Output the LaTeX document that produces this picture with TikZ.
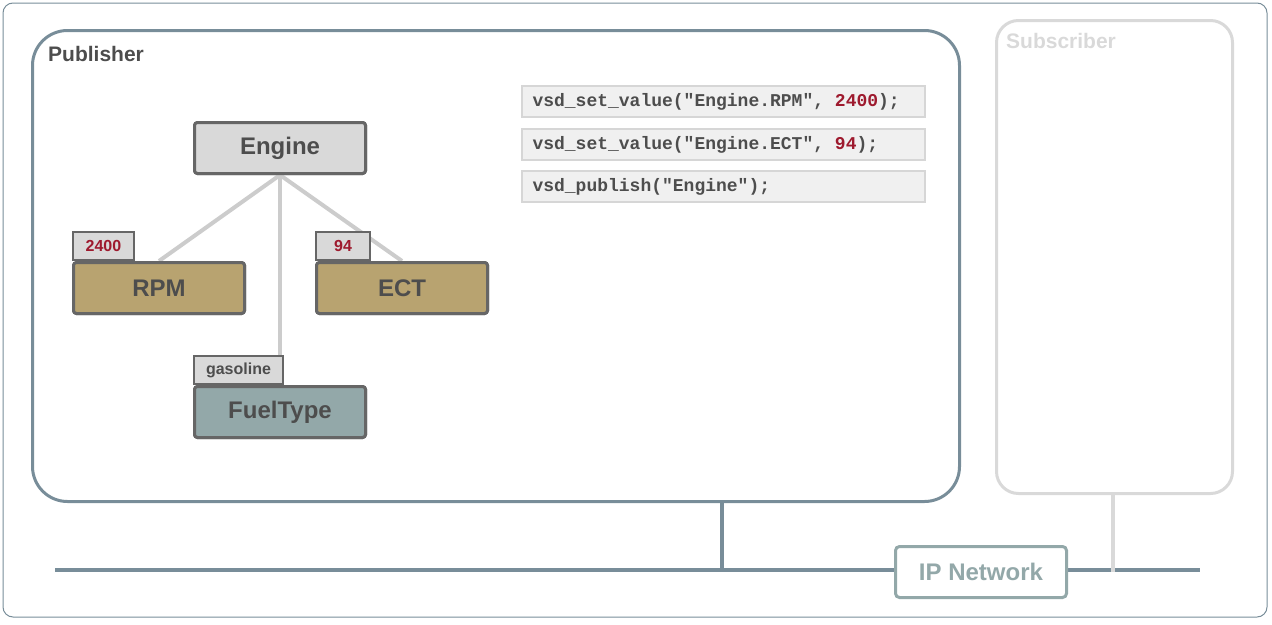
\documentclass[tikz,border=0pt]{standalone}
\usepackage{fontspec}
\setmainfont{Liberation Sans}
\setmonofont{Liberation Mono}
\definecolor{slate}{HTML}{788D99}
\definecolor{txt}{HTML}{4D4D4D}
\definecolor{light}{HTML}{D9D9D9}
\definecolor{edge}{HTML}{666666}
\definecolor{tan}{HTML}{B8A370}
\definecolor{teal}{HTML}{93A8A9}
\definecolor{num}{HTML}{9E1A2E}
\definecolor{codebg}{HTML}{F0F0F0}
\definecolor{codeln}{HTML}{D6D6D6}
\definecolor{conn}{HTML}{CCCCCC}
\newcommand{\msp}{\hphantom{x}}
\tikzset{
  box/.style={draw=edge, line width=3pt, rounded corners=3pt, text=txt, font=\bfseries\fontsize{24}{28}\selectfont, inner sep=0pt, minimum width=171pt, minimum height=51pt, anchor=north west},
  tab/.style={draw=edge, line width=2pt, fill=light, font=\bfseries\fontsize{16}{18}\selectfont, inner sep=0pt, minimum height=28pt, anchor=south west},
  code/.style={draw=codeln, line width=2pt, fill=codebg, text=txt, font=\ttfamily\bfseries\fontsize{18}{20}\selectfont, inner sep=0pt, minimum width=403pt, minimum height=31pt, anchor=north west, text width=396pt, align=left},
  conn/.style={draw=conn, line width=4pt},
}
\begin{document}
\begin{tikzpicture}[x=1pt,y=-1pt]
\useasboundingbox (0,0) rectangle (1272,624);
% outer frame
\draw[slate, line width=1pt, rounded corners=10pt] (3,3) rectangle (1267,617);
% publisher & subscriber containers
\node[draw=slate, line width=3pt, rounded corners=35pt, minimum width=927pt, minimum height=471pt, anchor=north west, inner sep=0pt] (pub) at (31,29) {};
\node[anchor=west, font=\bfseries\fontsize{21}{24}\selectfont, text=txt, inner sep=0pt] (publbl) at (48,54) {Publisher};
\node[draw=light, line width=3pt, rounded corners=22pt, minimum width=236pt, minimum height=473pt, anchor=north west, inner sep=0pt] (sub) at (995,19) {};
\node[anchor=west, font=\bfseries\fontsize{21}{24}\selectfont, text=light, inner sep=0pt] (sublbl) at (1006,41) {Subscriber};
% network
\coordinate (netL) at (55,570);
\coordinate (netR) at (1200,570);
\draw[slate, line width=4pt] (netL) -- (netR);
\coordinate (pubdrop) at (722,570);
\draw[slate, line width=4pt] (pub.south -| pubdrop) -- (pubdrop);
\coordinate (subdrop) at (1113,572);
\draw[light, line width=4pt] (sub.south -| subdrop) -- (subdrop);
\node[draw=teal, line width=3pt, rounded corners=4pt, fill=white, text=teal, font=\bfseries\fontsize{24}{28}\selectfont, minimum width=171pt, minimum height=51pt, inner sep=0pt, anchor=north west] (ip) at (894,545) {IP Network};
% tree
\node[box, fill=light] (engine) at (193,121) {Engine};
\node[box, fill=tan] (rpm) at (72,261) {RPM};
\node[box, fill=tan] (ect) at (315,261) {ECT};
\node[box, fill=teal] (fuel) at (193,385) {FuelType};
\draw[conn] (engine.south) -- (rpm.north);
\draw[conn] (engine.south) -- (ect.north);
\draw[conn] (engine.south) -- (fuel.north);
\node[tab, text=num, minimum width=61pt] (t2400) at (72,261) {2400};
\node[tab, text=num, minimum width=54pt] (t94) at (315,261) {94};
\node[tab, text=txt, minimum width=89pt] (tgas) at (193,385) {gasoline};
% redraw boxes on top of connector ends
\node[box, fill=tan] at (72,261) {RPM};
\node[box, fill=tan] at (315,261) {ECT};
\node[box, fill=teal] at (193,385) {FuelType};
\node[box, fill=light] at (193,121) {Engine};
% code
\node[code] (c1) at (521,85) {\hspace*{7pt}vsd\_set\_value("Engine.RPM",\msp\textcolor{num}{2400});};
\node[code] (c2) at (521,128) {\hspace*{7pt}vsd\_set\_value("Engine.ECT",\msp\textcolor{num}{94});};
\node[code] (c3) at (521,170) {\hspace*{7pt}vsd\_publish("Engine");};
\end{tikzpicture}
\end{document}
